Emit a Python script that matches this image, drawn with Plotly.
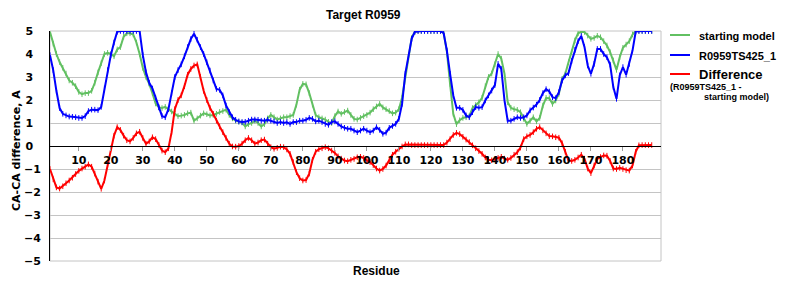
import plotly.graph_objects as go

# ---------------- data ----------------
residues = list(range(1, 190))

starting_model = [
    4.95, 4.45, 4.0, 3.65, 3.4, 3.15, 2.85, 2.75, 2.6, 2.35,
    2.25, 2.3, 2.3, 2.4, 2.75, 3.2, 3.6, 4.0, 4.05, 4.0,
    3.9, 4.2, 4.3, 4.75, 4.9, 4.9, 4.85, 4.5, 4.0, 3.4,
    3.0, 2.7, 2.3, 1.85, 1.68, 1.65, 1.7, 1.6, 1.5, 1.4,
    1.3, 1.32, 1.35, 1.42, 1.45, 1.1, 1.2, 1.32, 1.42, 1.38,
    1.33, 1.35, 1.4, 1.48, 1.52, 1.58, 1.35, 1.2, 1.1, 1.05,
    1.02, 0.85, 0.95, 1.0, 1.1, 1.0, 0.85, 0.95, 1.2, 1.35,
    1.25, 1.15, 1.2, 1.25, 1.25, 1.3, 1.35, 1.8, 2.45, 2.7,
    2.68, 2.3, 1.8, 1.35, 1.25, 1.2, 1.15, 1.05, 1.0, 1.3,
    1.5, 1.4, 1.48, 1.54, 1.35, 1.18, 1.15, 1.22, 1.3, 1.35,
    1.45, 1.6, 1.72, 1.83, 1.68, 1.6, 1.52, 1.42, 1.45, 1.6,
    2.1, 3.0, 3.95, 4.7, 4.97, 5.0, 5.0, 5.0, 5.0, 5.0,
    5.0, 5.0, 5.0, 4.9, 4.1, 2.7, 1.4, 0.95, 1.12, 1.22,
    1.25, 1.3, 1.65, 1.78, 1.9, 2.1, 2.6, 3.0, 3.15, 3.55,
    4.0, 3.8, 3.14, 1.9, 1.66, 1.6, 1.57, 1.47, 1.18, 0.96,
    1.1, 1.25, 1.07, 1.22, 1.76, 2.09, 2.08, 1.83, 1.98, 2.27,
    2.92, 3.14, 3.64, 4.08, 4.59, 4.9, 4.97, 4.96, 4.8, 4.66,
    4.7, 4.79, 4.73, 4.56, 4.37, 4.08, 3.72, 3.31, 3.86, 4.27,
    4.41, 4.56, 4.85, 5.0, 5.0, 5.0, 5.0, 5.0, 5.0,
]

model_r0959ts425_1 = [
    3.95, 3.3, 2.4, 1.65, 1.4, 1.33, 1.28, 1.27, 1.25, 1.22,
    1.22, 1.3, 1.52, 1.58, 1.58, 1.56, 1.7, 2.5, 3.3, 3.95,
    4.5, 4.97, 5.0, 5.0, 5.0, 5.0, 5.0, 5.0, 5.0, 3.95,
    3.2, 2.75, 2.5, 2.1, 1.68, 1.3, 1.25, 1.6, 2.3, 3.0,
    3.3, 3.55, 3.9, 4.3, 4.65, 4.88, 4.62, 4.3, 4.0, 3.64,
    3.28, 2.85, 2.48, 2.44, 2.2, 1.76, 1.47, 1.25, 1.14, 1.07,
    1.04, 1.05, 1.1, 1.15, 1.15, 1.14, 1.1, 1.1, 1.14, 1.1,
    1.07, 1.0, 1.04, 1.0, 1.03, 0.96, 1.04, 1.04, 1.1, 1.1,
    1.14, 1.22, 1.18, 1.07, 1.1, 1.04, 0.96, 0.92, 1.04, 1.07,
    0.96, 0.85, 0.79, 0.75, 0.75, 0.67, 0.6, 0.67, 0.75, 0.67,
    0.6, 0.67, 0.82, 0.7, 0.53, 0.58, 0.79, 0.87, 0.96, 1.18,
    1.83, 3.14, 3.86, 4.66, 4.97, 5.0, 5.0, 5.0, 5.0, 5.0,
    5.0, 5.0, 5.0, 4.9, 4.15, 3.14, 2.2, 1.66, 1.66, 1.57,
    1.33, 1.25, 1.47, 1.69, 1.66, 1.69, 1.98, 2.2, 2.41, 2.65,
    3.57, 3.35, 1.98, 1.1, 1.1, 1.18, 1.25, 1.22, 1.25, 1.33,
    1.55, 1.67, 1.8, 2.0, 2.3, 2.47, 2.37, 2.12, 2.08, 2.34,
    2.85, 3.07, 3.17, 3.7, 4.18, 4.56, 4.78, 4.3, 3.5, 3.14,
    3.57, 4.22, 4.22, 4.0, 3.86, 3.54, 2.56, 2.05, 3.07, 3.43,
    3.1, 3.57, 4.15, 4.98, 5.0, 5.0, 5.0, 5.0, 5.0,
]

difference = [
    -1.0, -1.45, -1.8, -1.85, -1.75, -1.62, -1.5, -1.38, -1.22, -1.08,
    -0.98, -0.9, -0.8, -0.9, -1.2, -1.55, -1.86, -1.5, -0.8, -0.1,
    0.45, 0.82, 0.7, 0.45, 0.25, 0.2, 0.35, 0.55, 0.62, 0.35,
    0.1, 0.2, 0.38, 0.3, 0.05, -0.2, -0.27, -0.1, 0.6, 1.6,
    2.0, 2.2, 2.6, 3.1, 3.35, 3.5, 3.55, 3.0, 2.4, 2.0,
    1.65, 1.4, 1.1, 0.85, 0.6, 0.35, 0.1, -0.02, -0.03, 0.0,
    0.1, 0.25, 0.35, 0.25, 0.1, 0.15, 0.25, 0.28, 0.1, -0.05,
    -0.12, -0.08, -0.03, -0.05, -0.15, -0.34, -0.7, -1.14, -1.4, -1.5,
    -1.48, -1.2, -0.6, -0.25, -0.14, -0.1, -0.05, -0.1, -0.2, -0.3,
    -0.45, -0.55, -0.63, -0.66, -0.6, -0.56, -0.49, -0.47, -0.52, -0.63,
    -0.7, -0.83, -0.98, -1.07, -1.0, -0.85, -0.6, -0.38, -0.25, -0.12,
    -0.02, 0.07, 0.07, 0.04, 0.04, 0.04, 0.04, 0.04, 0.04, 0.04,
    0.04, 0.04, 0.04, 0.04, 0.15, 0.3, 0.48, 0.57, 0.52, 0.4,
    0.28, 0.17, 0.03, -0.1, -0.22, -0.34, -0.5, -0.6, -0.62, -0.58,
    -0.52, -0.47, -0.55, -0.6, -0.52, -0.38, -0.27, -0.07, 0.3, 0.42,
    0.48, 0.6, 0.75, 0.82, 0.68, 0.55, 0.43, 0.42, 0.38, 0.36,
    0.12, -0.25, -0.63, -0.65, -0.6, -0.5, -0.38, -0.55, -0.98, -1.18,
    -0.85, -0.56, -0.48, -0.41, -0.42, -0.65, -0.98, -1.0, -0.95, -1.0,
    -1.05, -1.07, -0.85, -0.25, 0.03, 0.04, 0.04, 0.04, 0.04,
]

x_tick_values = [10, 20, 30, 40, 50, 60, 70, 80, 90, 100, 110, 120, 130, 140, 150, 160, 170, 180]
x_tick_labels = [str(v) for v in x_tick_values]
y_tick_values = [-5, -4, -3, -2, -1, 0, 1, 2, 3, 4, 5]
y_tick_labels = ["\u22125", "\u22124", "\u22123", "\u22122", "\u22121",
                 "0\u2007", "1\u2007", "2\u2007", "3\u2007", "4\u2007", "5\u2007"]

series_names = ["starting model", "R0959TS425_1", "Difference"]
title_text = "Target R0959"
x_title = "Residue"
y_title = "CA-CA difference, A"
diff_note_1 = "(R0959TS425_1 -"
diff_note_2 = "starting model)"

# ---------------- layout constants (pixels) ----------------
W, H = 800, 300
PL, PR, PT, PB = 50, 661, 31, 261
GREEN, BLUE, RED = "#62c062", "#0000ff", "#ff0000"
GRID = "#c4c4c4"


def fx(px):
    return (px - PL) / (PR - PL)


def fy(py):
    return (PB - py) / (PB - PT)


fig = go.Figure()
for name, vals, col in [(series_names[0], starting_model, GREEN),
                        (series_names[1], model_r0959ts425_1, BLUE),
                        (series_names[2], difference, RED)]:
    fig.add_trace(go.Scatter(
        x=residues, y=vals, name=name, mode="lines+markers",
        line=dict(color=col, width=2),
        marker=dict(symbol="line-ns", size=4, color=col, line=dict(color=col, width=1)),
        showlegend=False, hoverinfo="skip"))

tick_font = dict(family="DejaVu Sans", size=11, color="black", weight="bold")
lab_font = dict(family="Liberation Sans, Arial", color="black", weight="bold")

fig.update_layout(
    width=W, height=H, autosize=False,
    margin=dict(l=PL, r=W - PR, t=PT, b=H - PB, pad=0),
    paper_bgcolor="white", plot_bgcolor="white",
    showlegend=False,
    xaxis=dict(range=[1, 191.9], tickmode="array", tickvals=x_tick_values, ticktext=x_tick_labels,
               anchor="free", position=0.5, showline=True, linecolor="black", linewidth=1,
               ticks="outside", ticklen=4, tickcolor="#9a9a9a", tickwidth=1,
               showgrid=False, zeroline=False, tickfont=tick_font),
    yaxis=dict(range=[-5, 5], tickmode="array", tickvals=y_tick_values, ticktext=y_tick_labels,
               showline=True, linecolor="black", linewidth=1, ticks="",
               showgrid=True, gridcolor=GRID, gridwidth=1, zeroline=False,
               tickfont=tick_font, ticklabelstandoff=6),
)

# plot border (gray box)
fig.add_shape(type="rect", xref="paper", yref="paper", x0=0, x1=1, y0=0, y1=1,
              line=dict(color=GRID, width=1), layer="below")

ann = []
ann.append(dict(text=title_text, x=fx(363), y=fy(15), xref="paper", yref="paper",
                showarrow=False, xanchor="center", yanchor="middle",
                font=dict(lab_font, size=12)))
ann.append(dict(text=x_title, x=fx(376), y=fy(271), xref="paper", yref="paper",
                showarrow=False, xanchor="center", yanchor="middle",
                font=dict(lab_font, size=12)))
ann.append(dict(text=y_title, x=fx(16), y=fy(151), xref="paper", yref="paper",
                showarrow=False, xanchor="center", yanchor="middle", textangle=-90,
                font=dict(family="DejaVu Sans", size=11, color="black", weight="bold")))

# legend (drawn manually)
leg_rows = [(series_names[0], GREEN, 35, 11), (series_names[1], BLUE, 55, 11), (series_names[2], RED, 74, 13)]
for name, col, yy, fs in leg_rows:
    fig.add_shape(type="line", xref="paper", yref="paper", x0=fx(670), x1=fx(690),
                  y0=fy(yy), y1=fy(yy), line=dict(color=col, width=2))
    ann.append(dict(text=name, x=fx(697), y=fy(yy + 0.5), xref="paper", yref="paper",
                    showarrow=False, xanchor="left", yanchor="middle",
                    font=dict(lab_font, size=fs)))
ann.append(dict(text=diff_note_1, x=fx(668), y=fy(87), xref="paper", yref="paper",
                showarrow=False, xanchor="left", yanchor="middle", font=dict(lab_font, size=9)))
ann.append(dict(text=diff_note_2, x=fx(702), y=fy(97), xref="paper", yref="paper",
                showarrow=False, xanchor="left", yanchor="middle", font=dict(lab_font, size=9)))
fig.update_layout(annotations=ann)

fig.write_html("out.html")
